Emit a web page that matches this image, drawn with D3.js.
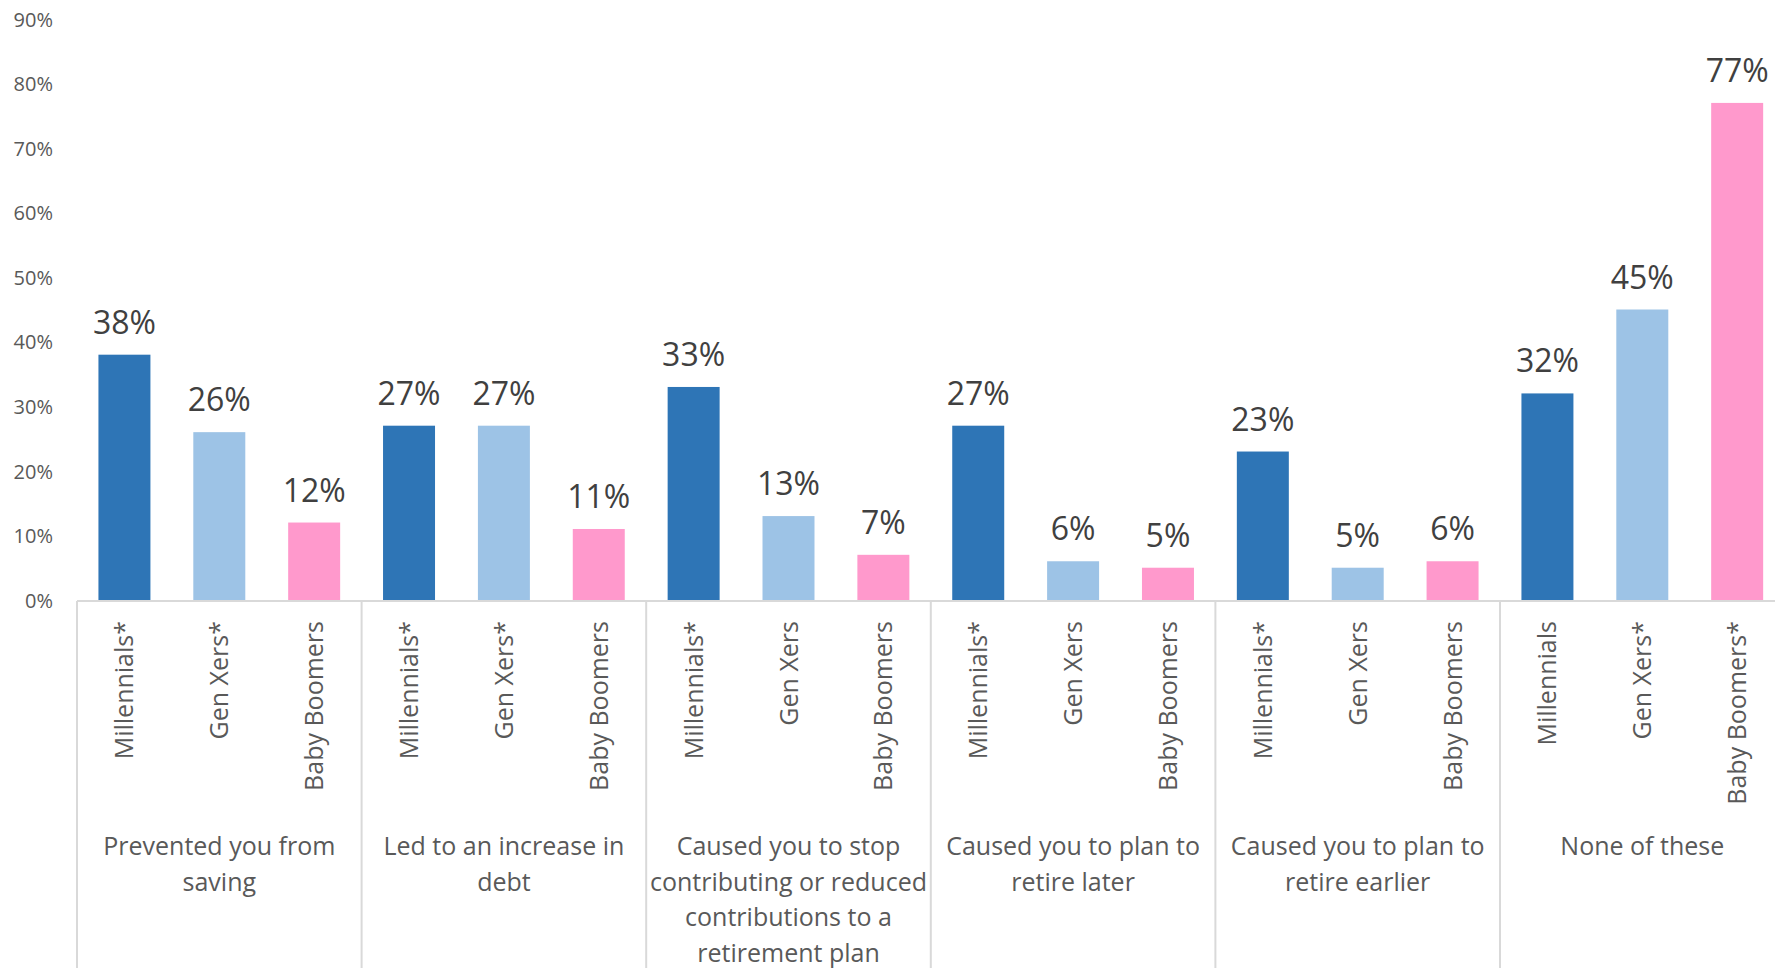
<!DOCTYPE html>
<html>
<head>
<meta charset="utf-8">
<script src="https://cdn.jsdelivr.net/npm/d3@7"></script>
<style>
  html, body { margin: 0; padding: 0; background: #ffffff; }
  svg { display: block; }
  text { font-family: "Open Sans", "Noto Sans", sans-serif; }
</style>
</head>
<body>
<svg id="chart" width="1775" height="968"></svg>
<script>
// ---- data ----
const categories = [
  "Prevented you from saving",
  "Led to an increase in debt",
  "Caused you to stop contributing or reduced contributions to a retirement plan",
  "Caused you to plan to retire later",
  "Caused you to plan to retire earlier",
  "None of these"
];
const categoryLines = [
  ["Prevented you from", "saving"],
  ["Led to an increase in", "debt"],
  ["Caused you to stop", "contributing or reduced", "contributions to a", "retirement plan"],
  ["Caused you to plan to", "retire later"],
  ["Caused you to plan to", "retire earlier"],
  ["None of these"]
];
const series = ["Millennials", "Gen Xers", "Baby Boomers"];
const millennials = [38, 27, 33, 27, 23, 32];
const genXers     = [26, 27, 13, 6, 5, 45];
const babyBoomers = [12, 11, 7, 5, 6, 77];
const barLabels = [
  ["Millennials*", "Gen Xers*", "Baby Boomers"],
  ["Millennials*", "Gen Xers*", "Baby Boomers"],
  ["Millennials*", "Gen Xers", "Baby Boomers"],
  ["Millennials*", "Gen Xers", "Baby Boomers"],
  ["Millennials*", "Gen Xers", "Baby Boomers"],
  ["Millennials", "Gen Xers*", "Baby Boomers*"]
];
const yTicks = [0, 10, 20, 30, 40, 50, 60, 70, 80, 90];
const colors = ["#2E75B6", "#9DC3E6", "#FF99CC"];

// ---- layout ----
const svg = d3.select("#chart");
const left = 77, groupW = 284.6;
const y0 = 600, yTop = 19;

const x0 = d3.scaleBand().domain(categories).range([left, left + groupW * categories.length]).padding(0);
const x1 = d3.scaleBand().domain(series).range([0, x0.bandwidth()]).paddingInner(0.452).paddingOuter(0.226);
const y = d3.scaleLinear().domain([0, 90]).range([y0, yTop]);
const color = d3.scaleOrdinal().domain(series).range(colors);

const valuesBySeries = [millennials, genXers, babyBoomers];
const rows = [];
categories.forEach((c, i) => {
  series.forEach((s, j) => {
    rows.push({ cat: c, ci: i, ser: s, sj: j, v: valuesBySeries[j][i], label: barLabels[i][j] });
  });
});

// y axis
const yAxis = d3.axisLeft(y).tickValues(yTicks).tickFormat(d => d + "%").tickSize(0).tickPadding(0);
const gy = svg.append("g").attr("transform", "translate(53,0)").call(yAxis);
gy.select(".domain").remove();
gy.selectAll("text")
  .attr("fill", "#595959")
  .style("font-size", "20px")
  .style("font-family", "'Open Sans', sans-serif")
  .attr("dy", "0.36em");

// bars
svg.append("g").selectAll("rect").data(rows).join("rect")
  .attr("x", d => x0(d.cat) + x1(d.ser))
  .attr("y", d => y(d.v))
  .attr("width", x1.bandwidth())
  .attr("height", d => y(0) - y(d.v))
  .attr("fill", d => color(d.ser));

// data labels
svg.append("g").selectAll("text").data(rows).join("text")
  .attr("x", d => x0(d.cat) + x1(d.ser) + x1.bandwidth() / 2)
  .attr("y", d => y(d.v) - 21)
  .attr("text-anchor", "middle")
  .attr("fill", "#404040")
  .style("font-size", "32px")
  .text(d => d.v + "%");

// axis line
svg.append("line")
  .attr("x1", left).attr("x2", x0.range()[1])
  .attr("y1", y0 + 1).attr("y2", y0 + 1)
  .attr("stroke", "#d9d9d9").attr("stroke-width", 2);

// group dividers
const bounds = categories.map(c => x0(c)).concat([x0.range()[1]]);
svg.append("g").selectAll("line").data(bounds).join("line")
  .attr("x1", d => d).attr("x2", d => d)
  .attr("y1", y0 + 1).attr("y2", 968)
  .attr("stroke", "#d9d9d9").attr("stroke-width", 2);

// rotated series labels
svg.append("g").selectAll("text").data(rows).join("text")
  .attr("transform", d => `translate(${x0(d.cat) + x1(d.ser) + x1.bandwidth() / 2},621) rotate(-90)`)
  .attr("text-anchor", "end")
  .attr("dy", "0.36em")
  .attr("fill", "#595959")
  .style("font-size", "25px")
  .text(d => d.label);

// group labels
const gl = svg.append("g").selectAll("text").data(categories).join("text")
  .attr("x", c => x0(c) + x0.bandwidth() / 2)
  .attr("y", 855)
  .attr("text-anchor", "middle")
  .attr("fill", "#595959")
  .style("font-size", "25px");
gl.each(function(c, i) {
  d3.select(this).selectAll("tspan").data(categoryLines[i]).join("tspan")
    .attr("x", x0(c) + x0.bandwidth() / 2)
    .attr("dy", (d, k) => k === 0 ? 0 : 35.5)
    .text(d => d);
});
</script>
</body>
</html>
